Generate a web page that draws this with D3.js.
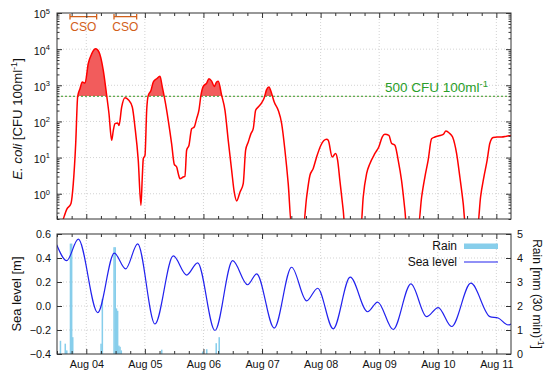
<!DOCTYPE html>
<html>
<head>
<meta charset="utf-8">
<script src="https://cdn.jsdelivr.net/npm/d3@7"></script>
<style>
  body { margin: 0; background: #fff; }
  svg { display: block; font-family: "Liberation Sans", Arial, sans-serif; }
</style>
</head>
<body>
<svg id="chart" width="550" height="377"></svg>
<script>
// times are decimal days of August (3.5 = Aug 03 12:00)
const ecoliDay = [3.55, 3.608, 3.666, 3.739, 3.778, 3.819, 3.853, 3.892, 3.932, 3.978, 4.034, 4.092, 4.160, 4.217,
  4.290, 4.348, 4.387, 4.433, 4.461, 4.490, 4.536, 4.558, 4.604, 4.660, 4.717, 4.785, 4.831, 4.887, 4.933,
  4.956, 4.973, 5.002, 5.031, 5.058, 5.104, 5.143, 5.201, 5.258, 5.297, 5.343, 5.399, 5.457, 5.502, 5.543,
  5.570, 5.599, 5.655, 5.684, 5.713, 5.753, 5.799, 5.843, 5.884, 5.923, 5.957, 5.997, 6.055, 6.094, 6.140,
  6.184, 6.225, 6.253, 6.311, 6.367, 6.423, 6.481, 6.526, 6.567, 6.623, 6.679, 6.720, 6.765, 6.811, 6.850,
  6.891, 6.935, 6.993, 7.038, 7.078, 7.118, 7.164, 7.208, 7.276, 7.335, 7.391, 7.447, 7.505, 7.703, 7.761,
  7.817, 7.874, 7.932, 8.005, 8.102, 8.130, 8.198, 8.256, 8.290, 8.329, 8.386, 8.415, 8.688, 8.727, 8.785,
  8.841, 8.927, 8.995, 9.051, 9.097, 9.166, 9.210, 9.268, 9.324, 9.382, 9.439, 9.468, 9.666, 9.724, 9.780,
  9.836, 9.894, 9.951, 10.036, 10.093, 10.139, 10.195, 10.253, 10.321, 10.377, 10.434, 10.475, 10.679,
  10.730, 10.787, 10.843, 10.889, 10.945, 11.014, 11.089, 11.174, 11.25];
const ecoliCfu = [0.1, 0.2, 0.37, 0.54, 1.9, 24, 490, 805, 1230, 1150, 4000, 7400, 10200, 8300,
  2600, 525, 166, 30, 56, 87, 91, 77, 250, 455, 400, 250, 70, 8.5, 0.48,
  2.9, 9.3, 11.5, 205, 525, 720, 1230, 1520, 1770, 900, 380, 107, 24, 6.5, 5.5,
  3.6, 2.6, 2.9, 3.0, 16, 22, 63, 70, 120, 205, 525, 930, 1150, 1520, 1300,
  930, 1230, 1300, 525, 205, 30, 4.5, 1.1, 0.63, 1.1, 1.9, 16, 27, 46, 63,
  205, 250, 325, 455, 760, 900, 590, 345, 205, 87, 16, 1.9, 0.12, 0.12, 0.8,
  3.2, 5, 10.4, 22, 32, 30, 10.4, 13, 8.5, 2.3, 0.35, 0.12, 0.12, 0.8, 3.6,
  6.8, 13, 20, 37, 44, 41, 25, 22, 8.5, 2.3, 0.35, 0.12, 0.12, 0.8, 2.9,
  8.5, 33, 37, 41, 44, 54, 48, 37, 13, 2.9, 0.54, 0.12, 0.12,
  0.8, 2.9, 8.5, 25, 36, 37, 37, 39, 41];

const rainDay = [3.546, 3.628, 3.654, 3.717, 3.737, 3.756, 4.239, 4.261, 4.461, 4.481, 4.502, 4.522, 4.543,
  4.563, 4.584, 5.275, 5.974, 6.043, 6.205, 6.256];
const rainMm = [0.55, 0.43, 0.15, 4.6, 4.6, 0.7, 0.43, 2.3, 4.45, 4.45, 1.9, 1.8, 0.35,
  0.3, 0.15, 0.18, 0.1, 0.2, 0.45, 0.7];

const seaDay = [3.495, 3.666, 3.863, 4.195, 4.478, 4.672, 4.877, 5.172, 5.485, 5.713, 5.901, 6.196, 6.498,
  6.754, 6.908, 7.208, 7.505, 7.761, 7.949, 8.215, 8.505, 8.802, 8.973, 9.239, 9.541, 9.809, 10.007,
  10.236, 10.565, 10.889, 11.031, 11.202, 11.25];
const seaLevel = [0.51, 0.378, 0.558, -0.055, 0.44, 0.31, 0.517, -0.15, 0.417, 0.258, 0.36, -0.204, 0.378,
  0.177, 0.268, -0.184, 0.323, 0.043, 0.148, -0.19, 0.24, -0.048, 0.033, -0.196, 0.184, -0.088, -0.013,
  -0.171, 0.19, -0.088, -0.10, -0.158, -0.15];

const csoStart = [3.722, 4.473];
const csoEnd = [4.177, 4.860];
const threshold = 500;

const dayTicks = [4, 5, 6, 7, 8, 9, 10, 11];
const ecoliExp = [0, 1, 2, 3, 4, 5];
const seaTicks = [-0.4, -0.2, 0.0, 0.2, 0.4, 0.6];
const rainTicks = [0, 1, 2, 3, 4, 5];

const toDate = d => new Date(Date.UTC(2015, 7, 1) + (d - 1) * 864e5);

const svg = d3.select('#chart');
const left = 57, right = 511;
const top1 = 13, bot1 = 219, top2 = 234, bot2 = 354;
const frameColor = '#333';
const gridColor = '#c8c8c8';

const x = d3.scaleUtc().domain([toDate(3.5), toDate(11.25)]).range([left, right]);
const yE = d3.scaleLog().domain([0.2, 1e5]).range([bot1, top1]);
const yS = d3.scaleLinear().domain([-0.4, 0.6]).range([bot2, top2]);
const yR = d3.scaleLinear().domain([0, 5]).range([bot2, top2]);

const defs = svg.append('defs');
defs.append('clipPath').attr('id', 'clip1').append('rect')
  .attr('x', left).attr('y', top1).attr('width', right - left).attr('height', bot1 - top1);
defs.append('clipPath').attr('id', 'clipFill').append('rect')
  .attr('x', left).attr('y', top1).attr('width', right - left).attr('height', yE(threshold) - top1);
defs.append('clipPath').attr('id', 'clip2').append('rect')
  .attr('x', left).attr('y', top2).attr('width', right - left).attr('height', bot2 - top2);

// grid
const grid = svg.append('g')
  .attr('stroke', gridColor).attr('stroke-width', 0.8).attr('stroke-dasharray', '1,2');
dayTicks.forEach(d => {
  grid.append('line').attr('x1', x(toDate(d))).attr('x2', x(toDate(d))).attr('y1', top1).attr('y2', bot1);
  grid.append('line').attr('x1', x(toDate(d))).attr('x2', x(toDate(d))).attr('y1', top2).attr('y2', bot2);
});
ecoliExp.slice(0, -1).forEach(e => {
  grid.append('line').attr('x1', left).attr('x2', right).attr('y1', yE(10 ** e)).attr('y2', yE(10 ** e));
});
seaTicks.slice(1, -1).forEach(v => {
  grid.append('line').attr('x1', left).attr('x2', right).attr('y1', yS(v)).attr('y2', yS(v));
});

// ---- top panel ----
const ecoli = ecoliDay.map((d, i) => ({ t: toDate(d), v: ecoliCfu[i] }));

const area = d3.area()
  .x(d => x(d.t))
  .y0(yE(threshold))
  .y1(d => yE(d.v))
  .curve(d3.curveMonotoneX);
svg.append('path').datum(ecoli)
  .attr('clip-path', 'url(#clipFill)')
  .attr('fill', '#f25c5c')
  .attr('d', area);

svg.append('line')
  .attr('x1', left).attr('x2', right).attr('y1', yE(threshold)).attr('y2', yE(threshold))
  .attr('stroke', '#2a9e2a').attr('stroke-width', 1.1).attr('stroke-dasharray', '2,2');

svg.append('path').datum(ecoli)
  .attr('clip-path', 'url(#clip1)')
  .attr('fill', 'none')
  .attr('stroke', '#f00')
  .attr('stroke-width', 1.5)
  .attr('d', d3.line().x(d => x(d.t)).y(d => yE(d.v)).curve(d3.curveMonotoneX));

const thr = svg.append('text')
  .attr('x', 488).attr('y', yE(threshold) - 4)
  .attr('text-anchor', 'end')
  .attr('fill', '#2a9e2a')
  .attr('font-size', 13.5);
thr.append('tspan').text('500 CFU 100ml');
thr.append('tspan').attr('dy', -5).attr('font-size', 9.5).text('-1');

// CSO brackets
const cso = svg.append('g').attr('stroke', '#d2601a').attr('stroke-width', 1.3).attr('fill', 'none');
csoStart.forEach((s, i) => {
  const x0 = x(toDate(s)), x1 = x(toDate(csoEnd[i]));
  cso.append('path').attr('d', `M${x0},14V19.5M${x0},16.7H${x1}M${x1},14V19.5`);
  svg.append('text')
    .attr('x', (x0 + x1) / 2).attr('y', 31)
    .attr('text-anchor', 'middle')
    .attr('fill', '#d2601a')
    .attr('font-size', 12)
    .text('CSO');
});

// ---- bottom panel ----
const rainW = x(toDate(3.5 + 1 / 48)) - x(toDate(3.5));
svg.append('g').attr('clip-path', 'url(#clip2)')
  .selectAll('rect')
  .data(rainDay.map((d, i) => ({ t: toDate(d), v: rainMm[i] })))
  .join('rect')
  .attr('x', d => x(d.t))
  .attr('width', rainW + 0.3)
  .attr('y', d => yR(d.v))
  .attr('height', d => yR(0) - yR(d.v))
  .attr('fill', '#87ceeb');

const sea = seaDay.map((d, i) => ({ t: toDate(d), v: seaLevel[i] }));
svg.append('path').datum(sea)
  .attr('clip-path', 'url(#clip2)')
  .attr('fill', 'none')
  .attr('stroke', '#2222ee')
  .attr('stroke-width', 1.2)
  .attr('d', d3.line().x(d => x(d.t)).y(d => yS(d.v)).curve(d3.curveMonotoneX));

// legend
const lg = svg.append('g').attr('font-size', 12).attr('fill', '#111');
lg.append('text').attr('x', 457).attr('y', 250).attr('text-anchor', 'end').text('Rain');
lg.append('rect').attr('x', 464).attr('y', 243.5).attr('width', 34).attr('height', 5.5).attr('fill', '#87ceeb');
lg.append('text').attr('x', 457).attr('y', 266).attr('text-anchor', 'end').text('Sea level');
lg.append('line').attr('x1', 464).attr('x2', 498).attr('y1', 262).attr('y2', 262)
  .attr('stroke', '#2222ee').attr('stroke-width', 1.2);

// ---- axes ----
const majorX = dayTicks.map(toDate);
const minorX = d3.utcHour.every(6).range(x.domain()[0], x.domain()[1])
  .filter(t => t.getUTCHours() !== 0);

function styleAxis(g) {
  g.select('.domain').remove();
  g.selectAll('line').attr('stroke', frameColor);
  g.selectAll('text').attr('fill', '#111').attr('font-size', 10.8).attr('font-family', null);
}

[[bot1, d3.axisBottom], [top1, d3.axisTop], [bot2, d3.axisBottom], [top2, d3.axisTop]].forEach(([yy, ax], i) => {
  svg.append('g').attr('transform', `translate(0,${yy})`)
    .call(ax(x).tickValues(minorX).tickSize(-3).tickFormat(''))
    .call(styleAxis);
  svg.append('g').attr('transform', `translate(0,${yy})`)
    .call(ax(x).tickValues(majorX).tickSize(-5).tickPadding(6.5)
      .tickFormat(i === 2 ? d3.utcFormat('%b %d') : ''))
    .call(styleAxis);
});

const majorE = ecoliExp.map(e => 10 ** e);
const minorE = [];
for (let e = -1; e < 5; e++) for (let k = 2; k <= 9; k++) {
  const v = k * 10 ** e;
  if (v >= 0.2 && v <= 1e5) minorE.push(v);
}
[[left, d3.axisLeft], [right, d3.axisRight]].forEach(([xx, ax], i) => {
  svg.append('g').attr('transform', `translate(${xx},0)`)
    .call(ax(yE).tickValues(minorE).tickSize(-2.5).tickFormat(''))
    .call(styleAxis);
  const g = svg.append('g').attr('transform', `translate(${xx},0)`)
    .call(ax(yE).tickValues(majorE).tickSize(-5).tickPadding(7).tickFormat(''))
    .call(styleAxis);
  if (i === 0) {
    g.selectAll('.tick text').each(function (d, j) {
      const t = d3.select(this).attr('dy', '0.45em');
      t.append('tspan').text('10');
      t.append('tspan').attr('dy', -4.5).attr('font-size', 7.5).text(ecoliExp[j]);
    });
  }
});

svg.append('g').attr('transform', `translate(${left},0)`)
  .call(d3.axisLeft(yS).tickValues(seaTicks).tickSize(-5).tickPadding(6).tickFormat(d3.format('.1f')))
  .call(styleAxis);
svg.append('g').attr('transform', `translate(${right},0)`)
  .call(d3.axisRight(yR).tickValues(rainTicks).tickSize(-5).tickPadding(6).tickFormat(d3.format('d')))
  .call(styleAxis);

// frames
[[top1, bot1], [top2, bot2]].forEach(([a, b]) => {
  svg.append('rect').attr('x', left).attr('y', a).attr('width', right - left).attr('height', b - a)
    .attr('fill', 'none').attr('stroke', frameColor).attr('stroke-width', 1);
});

// axis titles
const t1 = svg.append('text').attr('transform', `translate(22,${(top1 + bot1) / 2 + 3}) rotate(-90)`)
  .attr('text-anchor', 'middle').attr('font-size', 13.2).attr('fill', '#111');
t1.append('tspan').attr('font-style', 'italic').text('E. coli');
t1.append('tspan').text(' [CFU 100ml');
t1.append('tspan').attr('dy', -5).attr('font-size', 9).text('-1');
t1.append('tspan').attr('dy', 5).text(']');

svg.append('text').attr('transform', `translate(21,${(top2 + bot2) / 2}) rotate(-90)`)
  .attr('text-anchor', 'middle').attr('font-size', 13).attr('fill', '#111')
  .text('Sea level [m]');

const t3 = svg.append('text').attr('transform', `translate(533,${(top2 + bot2) / 2}) rotate(90)`)
  .attr('text-anchor', 'middle').attr('font-size', 12).attr('fill', '#111');
t3.append('tspan').text('Rain [mm (30 min)');
t3.append('tspan').attr('dy', -4.5).attr('font-size', 8.5).text('-1');
t3.append('tspan').attr('dy', 4.5).text(']');
</script>
</body>
</html>
